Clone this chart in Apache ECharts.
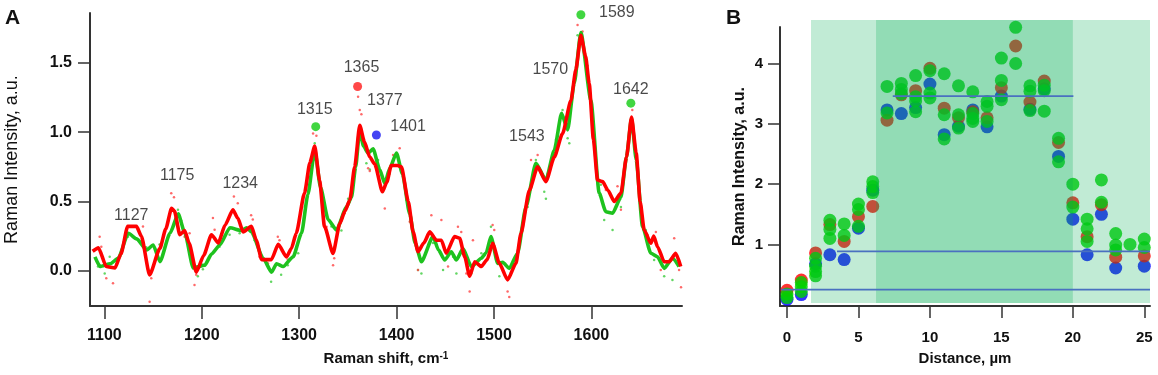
<!DOCTYPE html>
<html>
<head>
<meta charset="utf-8">
<script src="https://cdn.jsdelivr.net/npm/echarts@6/dist/echarts.min.js"></script>
<style>
html, body { margin: 0; background: #fff; }
#main { width: 1158px; height: 375px; }
</style>
</head>
<body>
<div id="main"></div>
<script>
// ---- panel A : spectra ----
var redLine = [[1088,0.14],[1094,0.165],[1102,0.03],[1111,0.02],[1117,0.12],[1124,0.32],[1133,0.32],[1138,0.25],
  [1146.5,-0.03],[1157,0.16],[1163,0.30],[1169,0.45],[1172,0.43],[1177.5,0.26],[1182.5,0.29],[1187,0.20],[1194.5,-0.01],
  [1202,0.11],[1210,0.26],[1217,0.20],[1224,0.33],[1232,0.44],[1237,0.38],[1242.5,0.28],[1251,0.32],[1256,0.22],
  [1261.5,0.08],[1271.5,0.08],[1278.5,0.19],[1287,0.10],[1292,0.16],[1297,0.27],[1305.5,0.56],[1311,0.78],[1316,0.90],
  [1321,0.65],[1326,0.32],[1334.8,0.125],[1341.7,0.34],[1347,0.43],[1352,0.51],[1357,0.75],[1362.2,1.05],[1367,0.93],
  [1372.5,0.82],[1377.6,0.77],[1385.5,0.57],[1390,0.64],[1394.5,0.76],[1401,0.76],[1405,0.75],[1412,0.50],[1417,0.28],
  [1422,0.137],[1428,0.20],[1434,0.28],[1440.9,0.22],[1446,0.22],[1451,0.126],[1459.6,0.246],[1464.8,0.234],[1470,0.10],
  [1475,-0.04],[1480.2,0.065],[1487,0.03],[1493,0.08],[1498.6,0.198],[1505.5,0.053],[1514,-0.067],[1522.5,0.053],
  [1527.7,0.27],[1536.3,0.58],[1544.8,0.75],[1553.3,0.643],[1561.9,0.82],[1570.4,0.99],[1579,1.23],[1584,1.45],
  [1589.2,1.70],[1594,1.55],[1597.8,1.35],[1602,0.95],[1606.3,0.655],[1611.5,0.643],[1617,0.58],[1623.5,0.50],
  [1630.3,0.56],[1636,0.82],[1641.2,1.11],[1646,0.85],[1650,0.50],[1654.2,0.294],[1661,0.198],[1664,0.25],
  [1667.9,0.173],[1674.7,0.065],[1679.8,0.065],[1686.6,0.126],[1691.7,0.03]];

var greenLine = [[1090.4,0.10],[1095.6,0.03],[1106,0.05],[1114.3,0.09],[1124.6,0.27],[1133.2,0.23],[1143.5,0.15],
  [1150.2,0.186],[1157.1,0.065],[1167.4,0.27],[1175.9,0.41],[1182.7,0.27],[1191.3,0.02],[1203.2,0.04],[1210,0.12],
  [1218.6,0.186],[1228.9,0.31],[1240.9,0.29],[1246,0.31],[1251.1,0.28],[1263,0.09],[1271.6,-0.01],[1276.8,0.05],
  [1283.6,0.03],[1293.8,0.10],[1302.4,0.27],[1309,0.55],[1316,0.87],[1322,0.60],[1329.7,0.37],[1338.3,0.294],
  [1348.6,0.46],[1353.7,0.53],[1358,0.75],[1362.2,1.02],[1366,0.90],[1370.8,0.85],[1375.9,0.88],[1382.7,0.73],
  [1387.9,0.63],[1393,0.74],[1399.9,0.85],[1406,0.70],[1413.5,0.41],[1419,0.20],[1425.5,0.065],[1437.4,0.246],
  [1443,0.15],[1449.4,0.077],[1456.2,0.137],[1461.4,0.077],[1468.2,0.16],[1476.8,0.03],[1487,0.09],[1492,0.13],
  [1496.9,0.246],[1503.8,0.053],[1509,0.06],[1515.7,0.017],[1524.2,0.126],[1532.8,0.46],[1543,0.776],[1553.3,0.655],
  [1561.9,0.87],[1569.4,1.137],[1575.6,1.017],[1582.4,1.354],[1589.2,1.72],[1599.5,1.23],[1608,0.56],[1614.8,0.426],
  [1621.7,0.415],[1630.3,0.53],[1636,0.82],[1641.2,1.10],[1646,0.80],[1652.5,0.318],[1661,0.126],[1667.9,0.10],
  [1674.7,0.017],[1683.2,0.09],[1690,0.03]];

var redDots = [[1095.2,0.246],[1096.9,0.173],[1102,-0.055],[1108.9,-0.09],[1115.8,0.10],[1139.7,0.32],[1146.5,-0.224],
  [1148.2,-0.055],[1168.7,0.56],[1171.5,0.53],[1182.4,0.246],[1187.5,0.27],[1194.3,-0.03],[1192.6,-0.103],[1211.5,0.38],
  [1213.2,0.295],[1233,0.535],[1237,0.487],[1250.7,0.40],[1252.4,0.37],[1259.3,0.10],[1267.9,0.053],[1278.1,0.246],
  [1279.8,0.22],[1288.3,0.08],[1304.1,0.535],[1314.3,0.99],[1317.7,0.975],[1328.1,0.318],[1334.8,0.04],[1336,0.09],
  [1346.8,0.415],[1353.7,0.56],[1360.5,1.257],[1362.2,1.16],[1363.9,1.13],[1370.8,0.74],[1372.5,0.72],[1387.9,0.45],
  [1396.4,0.836],[1403.2,0.884],[1413.5,0.354],[1422,0.005],[1435.7,0.40],[1446,0.366],[1452.8,0.03],[1463,0.318],
  [1466.4,0.28],[1471.6,-0.02],[1475,-0.15],[1478.4,0.22],[1498.6,0.33],[1500.3,0.294],[1514,-0.15],[1515.7,-0.19],
  [1527.7,0.246],[1538,0.80],[1544.8,0.836],[1555,0.70],[1572.1,1.04],[1580.7,1.27],[1585.8,1.775],[1590.9,1.727],
  [1606.3,0.643],[1614.8,0.583],[1626.8,0.61],[1630.3,0.44],[1642,1.16],[1657.6,0.258],[1666.2,0.28],[1671.2,0.005],
  [1685,0.234],[1690,0.005],[1692,-0.12]];

var greenDots = [[1093.5,0.03],[1100.4,-0.02],[1105.5,0.10],[1112.4,0.05],[1124.3,0.246],[1134.5,0.22],[1143.1,0.17],
  [1153.3,0.10],[1156.7,0.19],[1175.6,0.44],[1179,0.36],[1185.9,0.19],[1196,-0.04],[1201.2,0.01],[1218.3,0.173],
  [1228.6,0.26],[1238.9,0.27],[1244,0.295],[1254.3,0.22],[1262.8,0.077],[1271.2,-0.08],[1281.5,-0.03],[1288.3,0.04],
  [1299,0.126],[1305.9,0.46],[1316,0.92],[1322.9,0.53],[1333.1,0.32],[1343.4,0.29],[1350.2,0.52],[1363.9,1.02],
  [1369,0.776],[1372.5,0.73],[1381,0.80],[1386.1,0.57],[1392.9,0.70],[1399.9,0.836],[1410,0.51],[1422,0.005],
  [1425.5,-0.02],[1437.4,0.20],[1447.7,0.005],[1458,0.10],[1461.4,-0.02],[1468.2,0.126],[1476.8,-0.02],[1487,0.126],
  [1496.9,0.318],[1505.5,-0.04],[1517.4,-0.015],[1524.2,0.126],[1534.5,0.46],[1543,0.80],[1551.6,0.57],[1553.3,0.52],
  [1563.6,0.946],[1570.4,1.16],[1575.6,0.957],[1577.3,0.92],[1585.8,1.70],[1596.1,1.48],[1609.7,0.62],[1613.1,0.366],
  [1621.7,0.294],[1630.3,0.46],[1640.5,1.03],[1655.9,0.294],[1664.4,0.077],[1674.7,-0.04],[1683.2,-0.067],[1690,0.05]];

var peakGreen = [[1317,1.04],[1589.2,1.848],[1640.5,1.21]];
var peakRed = [[1360,1.33]];
var peakBlue = [[1379.3,0.98]];

var peakLabelText = ['1127','1175','1234','1315','1365','1377','1401','1543','1570','1589','1642'];
var peakLabelX = [1127.7,1174.8,1239.5,1316,1364,1387.9,1411.8,1533.8,1557.8,1626.1,1640.5];
var peakLabelY = [0.40,0.69,0.63,1.166,1.47,1.23,1.04,0.968,1.45,1.865,1.31];

var shiftTicks = [1100,1200,1300,1400,1500,1600];
var intensityTicksA = [0,0.5,1,1.5];

// ---- panel B : intensity vs distance ----
var bluePts = [[0,0.09],[1,0.17],[2,0.68],[3,0.83],[4,0.75],[5,1.27],[6,1.90],[7,3.23],[8,3.17],[9,3.27],[10,3.66],
  [11,2.82],[12,2.96],[13,3.23],[14,2.95],[15,3.46],[17,3.24],[18,3.58],[19,2.46],[20,1.42],[21,0.83],[22,1.50],
  [23,0.61],[25,0.64]];
var redPts = [[0,0.24],[1,0.41],[2,0.86],[3,1.33],[4,1.05],[5,1.46],[6,1.63],[7,3.06],[8,3.48],[9,3.55],[10,3.92],
  [11,3.26],[12,3.10],[13,3.2],[14,3.10],[15,3.60],[16,4.29],[17,3.36],[18,3.71],[19,2.69],[20,1.69],[21,1.13],
  [22,1.66],[23,0.79],[25,0.81]];
var greenPts = [[0,0.18],[0,0.12],[1,0.37],[1,0.30],[1,0.22],[2,0.77],[2,0.64],[2,0.55],[2,0.48],[3,1.40],[3,1.25],
  [3,1.10],[4,1.34],[4,1.15],[5,1.67],[5,1.58],[5,1.30],[6,2.04],[6,1.96],[6,1.86],[7,3.62],[7,3.18],[8,3.67],[8,3.57],
  [8,3.50],[9,3.80],[9,3.45],[9,3.38],[9,3.20],[10,3.88],[10,3.51],[10,3.43],[11,3.83],[11,3.15],[11,2.75],[12,3.63],
  [12,3.15],[12,2.93],[13,3.53],[13,3.17],[13,3.09],[13,3.04],[14,3.37],[14,3.29],[14,3.04],[15,4.09],[15,3.72],
  [15,3.40],[16,4.60],[16,4.00],[17,3.63],[17,3.54],[17,3.22],[18,3.64],[18,3.55],[18,3.21],[19,2.76],[19,2.37],
  [20,2.00],[20,1.62],[21,1.42],[21,1.26],[21,1.05],[22,2.07],[22,1.70],[23,1.18],[23,0.99],[23,0.91],[24,1.00],
  [25,1.09],[25,0.95]];

var levelValue = [0.25, 0.885, 3.46];
var levelStart = [-0.4, 3.5, 7.4];
var levelEnd = [25.4, 25.4, 20.04];

var shadeOuter = [1.68, 25.4];
var shadeInner = [6.23, 20];

var distanceTicks = [0,5,10,15,20,25];
var intensityTicksB = [1,2,3,4];

var FONT = '"Liberation Sans", Arial, sans-serif';
var chart = echarts.init(document.getElementById('main'));

function axisBase(extra) {
  var a = {
    type: 'value',
    axisLine: { show: true, onZero: false, lineStyle: { color: '#333', width: 2 } },
    axisTick: { show: true, length: 12, lineStyle: { color: '#333', width: 1.5 } },
    axisLabel: { color: '#111', fontWeight: 'bold', fontSize: 16, fontFamily: FONT,
      formatter: function (v) { return String(v); } },
    splitLine: { show: false },
    nameLocation: 'middle',
    nameTextStyle: { color: '#111', fontWeight: 'bold', fontSize: 15, fontFamily: FONT }
  };
  return echarts.util.merge(a, extra, true);
}

var labelData = peakLabelText.map(function (t, i) {
  return { name: t, value: [peakLabelX[i], peakLabelY[i]] };
});

var levelSeries = levelValue.map(function (v, i) {
  return {
    type: 'line', xAxisIndex: 1, yAxisIndex: 1, z: 12, silent: true,
    symbol: 'none', clip: false,
    lineStyle: { color: '#4a70c0', width: 1.8 },
    data: [[levelStart[i], v], [levelEnd[i], v]]
  };
});

var option = {
  animation: false,
  backgroundColor: '#fff',
  textStyle: { fontFamily: FONT },
  graphic: [
    { type: 'text', left: 5, top: 8, style: { text: 'A', font: 'bold 21px ' + FONT, fill: '#111' } },
    { type: 'text', left: 726, top: 8, style: { text: 'B', font: 'bold 21px ' + FONT, fill: '#111' } }
  ],
  grid: [
    { left: 90, top: 13, width: 592, height: 293, containLabel: false, outerBoundsMode: 'none' },
    { left: 780, top: 27, width: 370, height: 279, containLabel: false, outerBoundsMode: 'none' },
    { left: 780, top: 20, width: 370, height: 283, containLabel: false, outerBoundsMode: 'none' }
  ],
  xAxis: [
    axisBase({
      gridIndex: 0, min: 1085.3, max: 1693,
      axisTick: { length: 13, customValues: shiftTicks },
      axisLabel: { customValues: shiftTicks, margin: 22 },
      name: 'Raman shift, cm{sup|-1}', nameGap: 45,
      nameTextStyle: { rich: { sup: { fontSize: 10, fontWeight: 'bold', verticalAlign: 'top', color: '#111', fontFamily: FONT } } }
    }),
    axisBase({
      gridIndex: 1, min: -0.49, max: 25.4,
      axisTick: { customValues: distanceTicks },
      axisLabel: { customValues: distanceTicks, margin: 24, fontSize: 15 },
      name: 'Distance, \u00b5m', nameGap: 45
    }),
    { gridIndex: 2, type: 'value', min: -0.49, max: 25.4, show: false }
  ],
  yAxis: [
    axisBase({
      gridIndex: 0, min: -0.255, max: 1.861,
      axisTick: { customValues: intensityTicksA },
      axisLabel: { customValues: intensityTicksA, margin: 18, formatter: function (v) { return v.toFixed(1); } },
      name: 'Raman Intensity, a.u.', nameGap: 69,
      nameTextStyle: { fontWeight: 'normal', fontSize: 18 }
    }),
    axisBase({
      gridIndex: 1, min: -0.02, max: 4.605,
      axisTick: { customValues: intensityTicksB },
      axisLabel: { customValues: intensityTicksB, margin: 17, fontSize: 15 },
      name: 'Raman Intensity, a.u.', nameGap: 32,
      nameTextStyle: { fontSize: 16 }
    }),
    { gridIndex: 2, type: 'value', min: 0, max: 1, show: false }
  ],
  series: [
    { type: 'scatter', xAxisIndex: 0, yAxisIndex: 0, symbolSize: 2.5, silent: true, z: 2,
      itemStyle: { color: '#3ccc3c' }, data: greenDots },
    { type: 'scatter', xAxisIndex: 0, yAxisIndex: 0, symbolSize: 2.5, silent: true, z: 2,
      itemStyle: { color: '#ff4444' }, data: redDots },
    { type: 'line', xAxisIndex: 0, yAxisIndex: 0, symbol: 'none', smooth: 0.2, smoothMonotone: 'x', z: 3, silent: true,
      lineStyle: { color: '#1ec21e', width: 3.6 }, data: greenLine },
    { type: 'line', xAxisIndex: 0, yAxisIndex: 0, symbol: 'none', smooth: 0.2, smoothMonotone: 'x', z: 4, silent: true,
      lineStyle: { color: '#ff0000', width: 3.6 }, data: redLine },
    { type: 'scatter', xAxisIndex: 0, yAxisIndex: 0, symbolSize: 9, clip: false, z: 5, silent: true,
      itemStyle: { color: '#11cc11' }, data: peakGreen },
    { type: 'scatter', xAxisIndex: 0, yAxisIndex: 0, symbolSize: 9, clip: false, z: 5, silent: true,
      itemStyle: { color: '#ff1a1a' }, data: peakRed },
    { type: 'scatter', xAxisIndex: 0, yAxisIndex: 0, symbolSize: 9, clip: false, z: 5, silent: true,
      itemStyle: { color: '#1414f0' }, data: peakBlue },
    { type: 'scatter', xAxisIndex: 0, yAxisIndex: 0, symbolSize: 0, clip: false, z: 6, silent: true,
      label: { show: true, position: 'inside', formatter: '{b}', color: '#1a1a1a', fontSize: 16, fontFamily: FONT },
      data: labelData },

    { type: 'scatter', xAxisIndex: 1, yAxisIndex: 1, symbolSize: 13, clip: false, z: 2, silent: true,
      itemStyle: { color: '#0000ff' }, data: bluePts },
    { type: 'scatter', xAxisIndex: 1, yAxisIndex: 1, symbolSize: 13, clip: false, z: 3, silent: true,
      itemStyle: { color: '#ff0000' }, data: redPts },
    { type: 'scatter', xAxisIndex: 1, yAxisIndex: 1, symbolSize: 13, clip: false, z: 4, silent: true,
      itemStyle: { color: '#00d200' }, data: greenPts },
    { type: 'scatter', xAxisIndex: 2, yAxisIndex: 2, data: [], z: 10, silent: true,
      markArea: {
        silent: true, z: 10,
        itemStyle: { color: 'rgba(0,173,82,0.243)' },
        data: [
          [{ xAxis: shadeOuter[0] }, { xAxis: shadeOuter[1] }],
          [{ xAxis: shadeInner[0] }, { xAxis: shadeInner[1] }]
        ]
      }
    }
  ].concat(levelSeries)
};

chart.setOption(option);
</script>
</body>
</html>
